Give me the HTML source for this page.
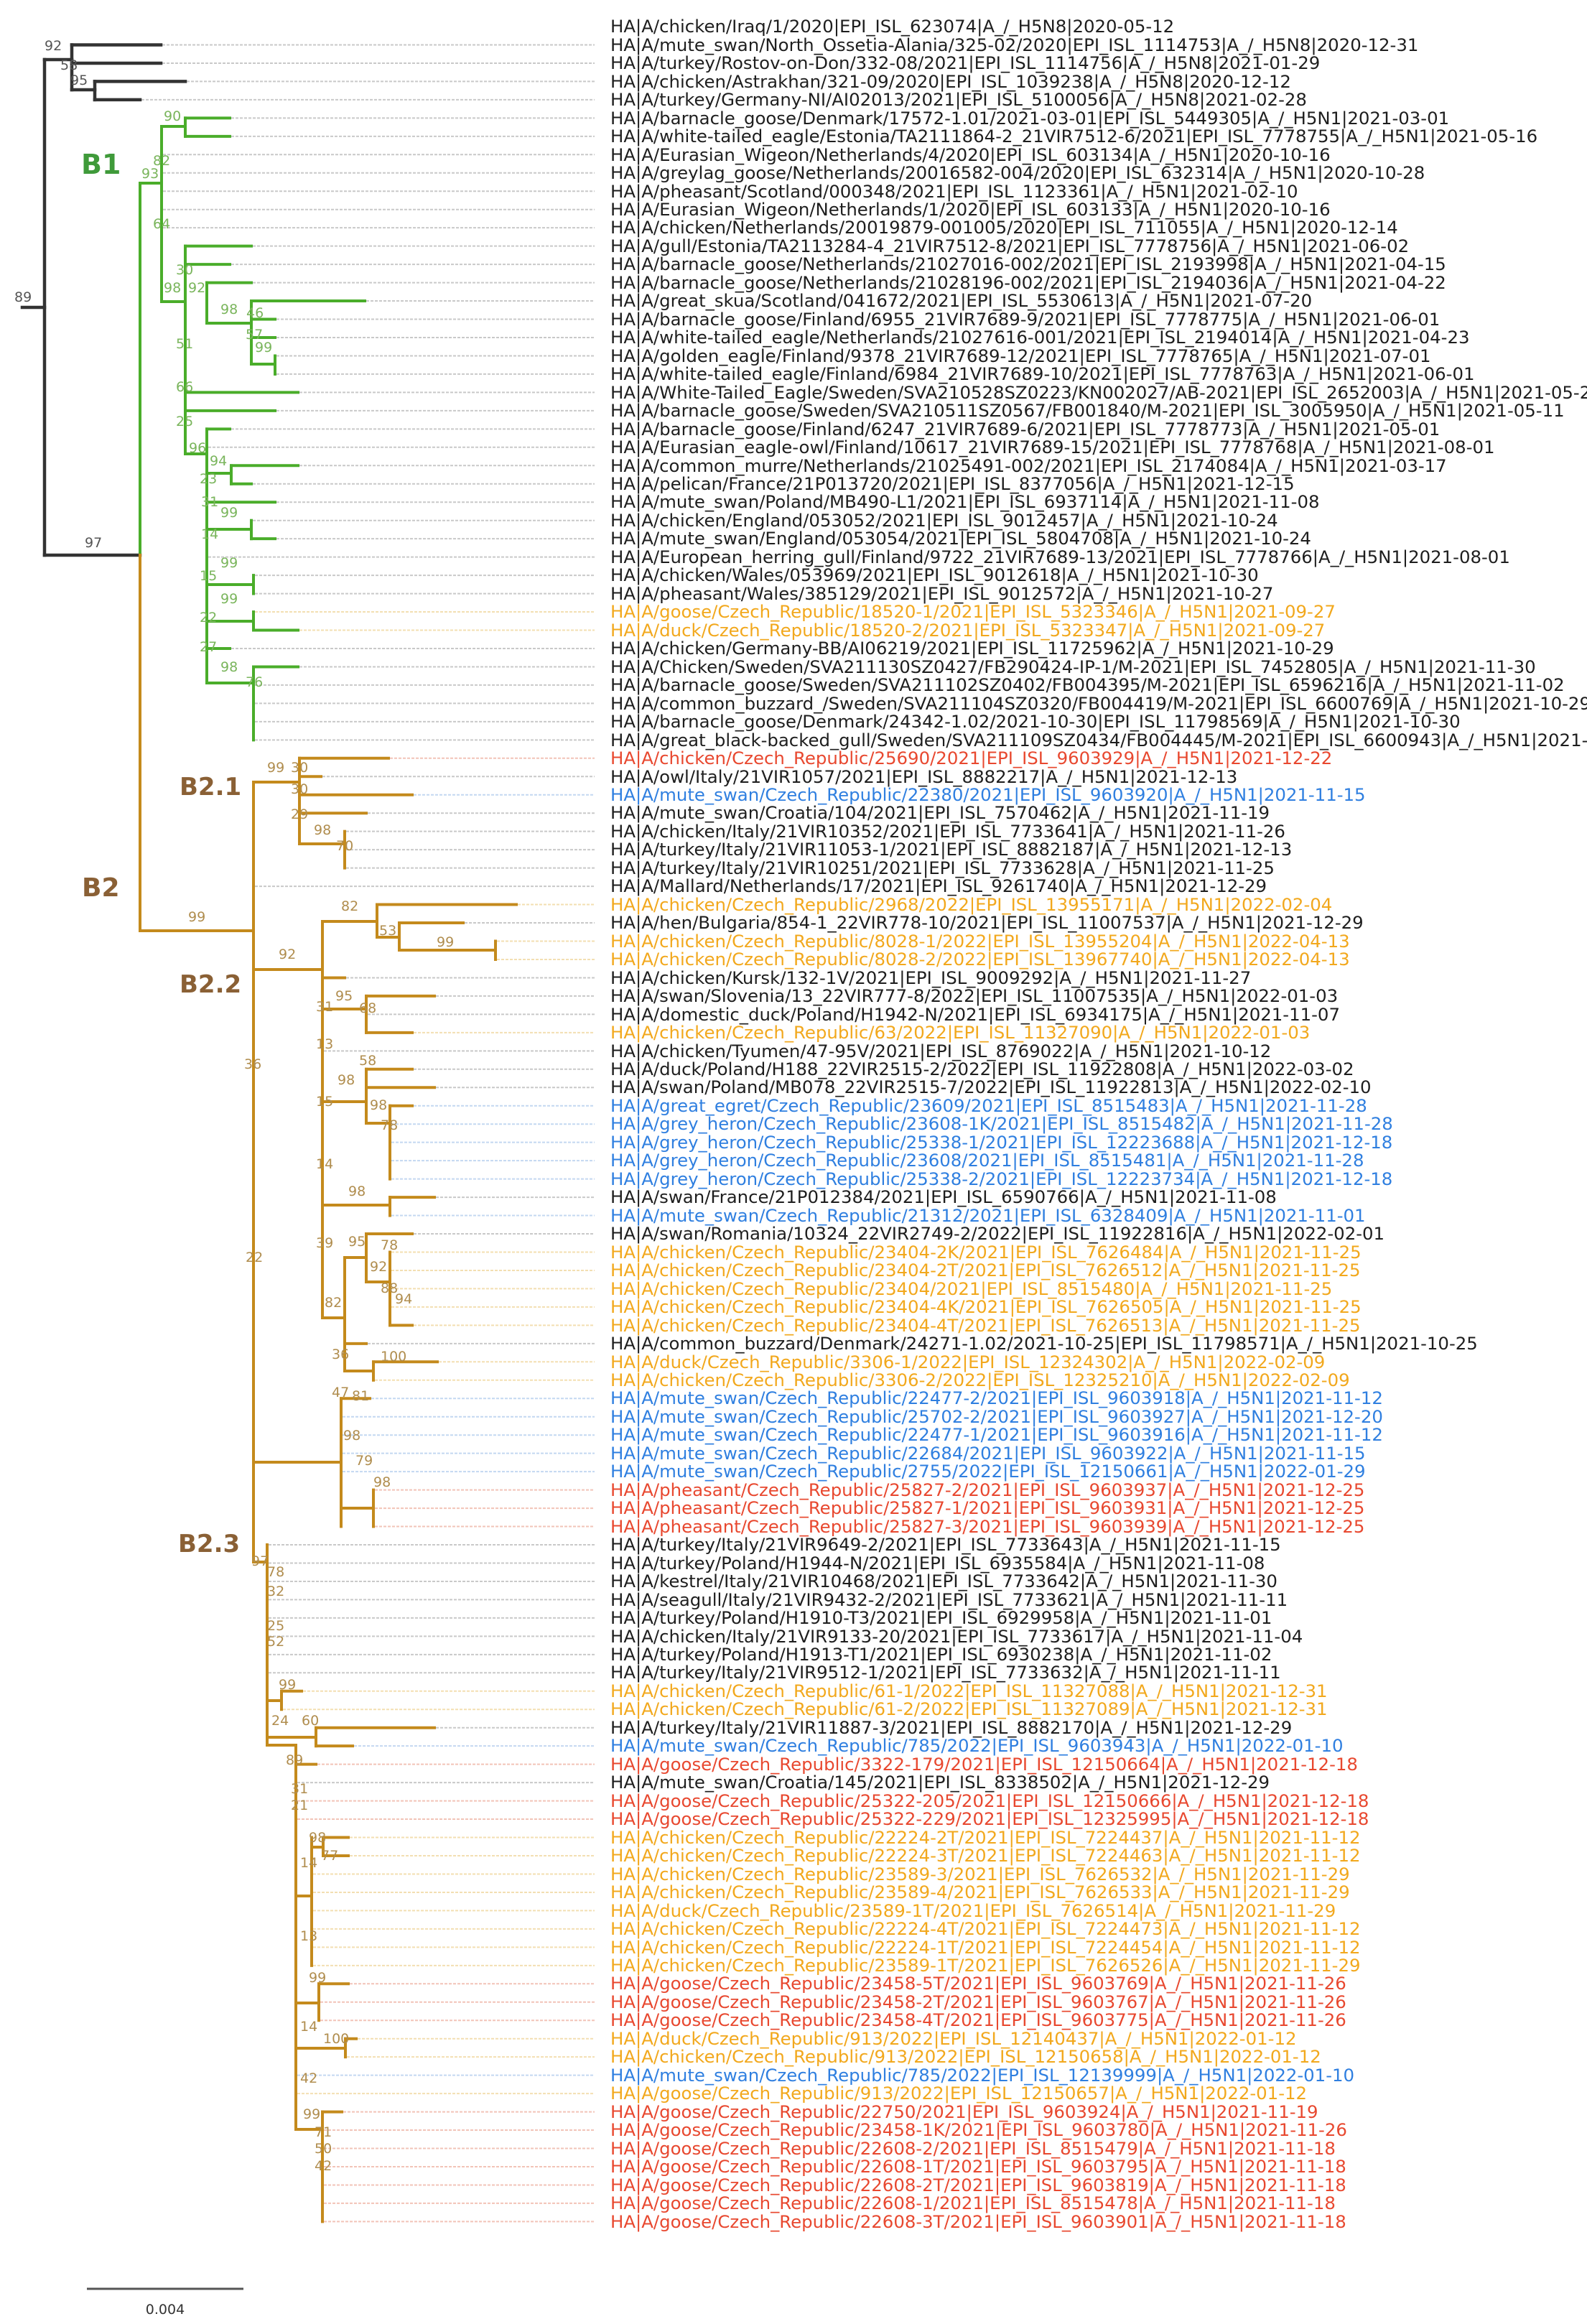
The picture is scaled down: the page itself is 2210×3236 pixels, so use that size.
<!DOCTYPE html>
<html><head><meta charset="utf-8">
<style>
html,body{margin:0;padding:0;background:#fff;}
body{width:2210px;height:3236px;position:relative;overflow:hidden;font-family:"DejaVu Sans","Liberation Sans",Arial,sans-serif;}
#labels{position:absolute;left:850px;top:24.3px;font-size:24.4px;line-height:25.47px;white-space:nowrap;font-family:"DejaVu Sans","Liberation Sans",sans-serif;}
#labels div{height:25.47px;}
.k{color:#1e1e1e}.y{color:#f2a81d}.b{color:#2f7fe0}.r{color:#e8482f}
svg{position:absolute;left:0;top:0;}
</style></head><body>
<svg id="tree" width="2210" height="3236" xmlns="http://www.w3.org/2000/svg">
<g id="dots"></g><g id="br"></g>
<g font-family="DejaVu Sans, Liberation Sans, sans-serif" font-size="19" fill="#555">
<text x="62" y="70">92</text><text x="84" y="97">58</text><text x="98" y="118">95</text>
<text x="20" y="420">89</text><text x="118" y="762">97</text>
</g>
<g font-family="DejaVu Sans, Liberation Sans, sans-serif" font-size="19" fill="#7ab55c">
<text x="228" y="168">90</text><text x="213" y="230">82</text><text x="197" y="248">93</text><text x="213" y="318">64</text>
<text x="245" y="382">30</text><text x="228" y="407">98</text><text x="262" y="407">92</text><text x="307" y="437">98</text>
<text x="343" y="442">46</text><text x="342" y="472">57</text><text x="355" y="490">99</text><text x="245" y="485">51</text>
<text x="245" y="545">66</text><text x="245" y="593">25</text><text x="263" y="630">96</text><text x="292" y="648">94</text>
<text x="278" y="673">23</text><text x="280" y="705">31</text><text x="307" y="720">99</text><text x="280" y="750">14</text>
<text x="307" y="790">99</text><text x="278" y="808">15</text><text x="307" y="840">99</text><text x="278" y="866">22</text>
<text x="278" y="907">27</text><text x="307" y="935">98</text><text x="342" y="956">76</text>
</g>
<g font-family="DejaVu Sans, Liberation Sans, sans-serif" font-size="19" fill="#b08d4e">
<text x="372" y="1075">99</text><text x="405" y="1075">30</text><text x="405" y="1105">30</text><text x="405" y="1140">29</text>
<text x="437" y="1162">98</text><text x="468" y="1184">70</text><text x="262" y="1283">99</text><text x="475" y="1268">82</text>
<text x="528" y="1302">53</text><text x="608" y="1318">99</text><text x="388" y="1335">92</text><text x="467" y="1393">95</text>
<text x="440" y="1408">31</text><text x="500" y="1410">68</text><text x="340" y="1488">36</text><text x="440" y="1460">13</text>
<text x="500" y="1483">58</text><text x="470" y="1510">98</text><text x="440" y="1540">15</text><text x="515" y="1545">98</text>
<text x="530" y="1573">78</text><text x="440" y="1627">14</text><text x="485" y="1665">98</text><text x="440" y="1737">39</text>
<text x="485" y="1735">95</text><text x="530" y="1740">78</text><text x="515" y="1770">92</text><text x="342" y="1757">22</text>
<text x="530" y="1800">88</text><text x="550" y="1815">94</text><text x="452" y="1820">82</text><text x="462" y="1892">36</text>
<text x="530" y="1895">100</text><text x="462" y="1945">47</text><text x="490" y="1950">81</text><text x="478" y="2005">98</text>
<text x="495" y="2040">79</text><text x="520" y="2070">98</text><text x="350" y="2180">97</text><text x="372" y="2195">78</text>
<text x="372" y="2222">32</text><text x="372" y="2270">25</text><text x="372" y="2292">52</text><text x="388" y="2352">99</text>
<text x="378" y="2402">24</text><text x="420" y="2402">60</text><text x="398" y="2457">89</text><text x="405" y="2497">31</text>
<text x="405" y="2520">21</text><text x="430" y="2565">98</text><text x="447" y="2590">77</text><text x="418" y="2600">14</text>
<text x="418" y="2702">13</text><text x="430" y="2760">99</text><text x="418" y="2828">14</text><text x="450" y="2845">100</text>
<text x="418" y="2900">42</text><text x="422" y="2950">99</text><text x="438" y="2975">71</text><text x="438" y="2998">50</text>
<text x="438" y="3022">42</text>
</g>
<g font-family="DejaVu Sans, Liberation Sans, sans-serif" font-weight="bold">
<text x="113" y="242" font-size="38" fill="#3f9a3a">B1</text>
<text x="250" y="1107" font-size="34" fill="#8a6035">B2.1</text>
<text x="114" y="1248" font-size="36" fill="#8a6035">B2</text>
<text x="250" y="1382" font-size="34" fill="#8a6035">B2.2</text>
<text x="248" y="2161" font-size="34" fill="#8a6035">B2.3</text>
</g>
<line x1="121" y1="3187" x2="339" y2="3187" stroke="#555" stroke-width="3"/>
<text x="230" y="3222" font-family="DejaVu Sans, Liberation Sans, sans-serif" font-size="19" fill="#333" text-anchor="middle">0.004</text>
</svg>
<div id="labels">
<div class="k">HA|A/chicken/Iraq/1/2020|EPI_ISL_623074|A_/_H5N8|2020-05-12</div>
<div class="k">HA|A/mute_swan/North_Ossetia-Alania/325-02/2020|EPI_ISL_1114753|A_/_H5N8|2020-12-31</div>
<div class="k">HA|A/turkey/Rostov-on-Don/332-08/2021|EPI_ISL_1114756|A_/_H5N8|2021-01-29</div>
<div class="k">HA|A/chicken/Astrakhan/321-09/2020|EPI_ISL_1039238|A_/_H5N8|2020-12-12</div>
<div class="k">HA|A/turkey/Germany-NI/AI02013/2021|EPI_ISL_5100056|A_/_H5N8|2021-02-28</div>
<div class="k">HA|A/barnacle_goose/Denmark/17572-1.01/2021-03-01|EPI_ISL_5449305|A_/_H5N1|2021-03-01</div>
<div class="k">HA|A/white-tailed_eagle/Estonia/TA2111864-2_21VIR7512-6/2021|EPI_ISL_7778755|A_/_H5N1|2021-05-16</div>
<div class="k">HA|A/Eurasian_Wigeon/Netherlands/4/2020|EPI_ISL_603134|A_/_H5N1|2020-10-16</div>
<div class="k">HA|A/greylag_goose/Netherlands/20016582-004/2020|EPI_ISL_632314|A_/_H5N1|2020-10-28</div>
<div class="k">HA|A/pheasant/Scotland/000348/2021|EPI_ISL_1123361|A_/_H5N1|2021-02-10</div>
<div class="k">HA|A/Eurasian_Wigeon/Netherlands/1/2020|EPI_ISL_603133|A_/_H5N1|2020-10-16</div>
<div class="k">HA|A/chicken/Netherlands/20019879-001005/2020|EPI_ISL_711055|A_/_H5N1|2020-12-14</div>
<div class="k">HA|A/gull/Estonia/TA2113284-4_21VIR7512-8/2021|EPI_ISL_7778756|A_/_H5N1|2021-06-02</div>
<div class="k">HA|A/barnacle_goose/Netherlands/21027016-002/2021|EPI_ISL_2193998|A_/_H5N1|2021-04-15</div>
<div class="k">HA|A/barnacle_goose/Netherlands/21028196-002/2021|EPI_ISL_2194036|A_/_H5N1|2021-04-22</div>
<div class="k">HA|A/great_skua/Scotland/041672/2021|EPI_ISL_5530613|A_/_H5N1|2021-07-20</div>
<div class="k">HA|A/barnacle_goose/Finland/6955_21VIR7689-9/2021|EPI_ISL_7778775|A_/_H5N1|2021-06-01</div>
<div class="k">HA|A/white-tailed_eagle/Netherlands/21027616-001/2021|EPI_ISL_2194014|A_/_H5N1|2021-04-23</div>
<div class="k">HA|A/golden_eagle/Finland/9378_21VIR7689-12/2021|EPI_ISL_7778765|A_/_H5N1|2021-07-01</div>
<div class="k">HA|A/white-tailed_eagle/Finland/6984_21VIR7689-10/2021|EPI_ISL_7778763|A_/_H5N1|2021-06-01</div>
<div class="k">HA|A/White-Tailed_Eagle/Sweden/SVA210528SZ0223/KN002027/AB-2021|EPI_ISL_2652003|A_/_H5N1|2021-05-28</div>
<div class="k">HA|A/barnacle_goose/Sweden/SVA210511SZ0567/FB001840/M-2021|EPI_ISL_3005950|A_/_H5N1|2021-05-11</div>
<div class="k">HA|A/barnacle_goose/Finland/6247_21VIR7689-6/2021|EPI_ISL_7778773|A_/_H5N1|2021-05-01</div>
<div class="k">HA|A/Eurasian_eagle-owl/Finland/10617_21VIR7689-15/2021|EPI_ISL_7778768|A_/_H5N1|2021-08-01</div>
<div class="k">HA|A/common_murre/Netherlands/21025491-002/2021|EPI_ISL_2174084|A_/_H5N1|2021-03-17</div>
<div class="k">HA|A/pelican/France/21P013720/2021|EPI_ISL_8377056|A_/_H5N1|2021-12-15</div>
<div class="k">HA|A/mute_swan/Poland/MB490-L1/2021|EPI_ISL_6937114|A_/_H5N1|2021-11-08</div>
<div class="k">HA|A/chicken/England/053052/2021|EPI_ISL_9012457|A_/_H5N1|2021-10-24</div>
<div class="k">HA|A/mute_swan/England/053054/2021|EPI_ISL_5804708|A_/_H5N1|2021-10-24</div>
<div class="k">HA|A/European_herring_gull/Finland/9722_21VIR7689-13/2021|EPI_ISL_7778766|A_/_H5N1|2021-08-01</div>
<div class="k">HA|A/chicken/Wales/053969/2021|EPI_ISL_9012618|A_/_H5N1|2021-10-30</div>
<div class="k">HA|A/pheasant/Wales/385129/2021|EPI_ISL_9012572|A_/_H5N1|2021-10-27</div>
<div class="y">HA|A/goose/Czech_Republic/18520-1/2021|EPI_ISL_5323346|A_/_H5N1|2021-09-27</div>
<div class="y">HA|A/duck/Czech_Republic/18520-2/2021|EPI_ISL_5323347|A_/_H5N1|2021-09-27</div>
<div class="k">HA|A/chicken/Germany-BB/AI06219/2021|EPI_ISL_11725962|A_/_H5N1|2021-10-29</div>
<div class="k">HA|A/Chicken/Sweden/SVA211130SZ0427/FB290424-IP-1/M-2021|EPI_ISL_7452805|A_/_H5N1|2021-11-30</div>
<div class="k">HA|A/barnacle_goose/Sweden/SVA211102SZ0402/FB004395/M-2021|EPI_ISL_6596216|A_/_H5N1|2021-11-02</div>
<div class="k">HA|A/common_buzzard_/Sweden/SVA211104SZ0320/FB004419/M-2021|EPI_ISL_6600769|A_/_H5N1|2021-10-29</div>
<div class="k">HA|A/barnacle_goose/Denmark/24342-1.02/2021-10-30|EPI_ISL_11798569|A_/_H5N1|2021-10-30</div>
<div class="k">HA|A/great_black-backed_gull/Sweden/SVA211109SZ0434/FB004445/M-2021|EPI_ISL_6600943|A_/_H5N1|2021-11-09</div>
<div class="r">HA|A/chicken/Czech_Republic/25690/2021|EPI_ISL_9603929|A_/_H5N1|2021-12-22</div>
<div class="k">HA|A/owl/Italy/21VIR1057/2021|EPI_ISL_8882217|A_/_H5N1|2021-12-13</div>
<div class="b">HA|A/mute_swan/Czech_Republic/22380/2021|EPI_ISL_9603920|A_/_H5N1|2021-11-15</div>
<div class="k">HA|A/mute_swan/Croatia/104/2021|EPI_ISL_7570462|A_/_H5N1|2021-11-19</div>
<div class="k">HA|A/chicken/Italy/21VIR10352/2021|EPI_ISL_7733641|A_/_H5N1|2021-11-26</div>
<div class="k">HA|A/turkey/Italy/21VIR11053-1/2021|EPI_ISL_8882187|A_/_H5N1|2021-12-13</div>
<div class="k">HA|A/turkey/Italy/21VIR10251/2021|EPI_ISL_7733628|A_/_H5N1|2021-11-25</div>
<div class="k">HA|A/Mallard/Netherlands/17/2021|EPI_ISL_9261740|A_/_H5N1|2021-12-29</div>
<div class="y">HA|A/chicken/Czech_Republic/2968/2022|EPI_ISL_13955171|A_/_H5N1|2022-02-04</div>
<div class="k">HA|A/hen/Bulgaria/854-1_22VIR778-10/2021|EPI_ISL_11007537|A_/_H5N1|2021-12-29</div>
<div class="y">HA|A/chicken/Czech_Republic/8028-1/2022|EPI_ISL_13955204|A_/_H5N1|2022-04-13</div>
<div class="y">HA|A/chicken/Czech_Republic/8028-2/2022|EPI_ISL_13967740|A_/_H5N1|2022-04-13</div>
<div class="k">HA|A/chicken/Kursk/132-1V/2021|EPI_ISL_9009292|A_/_H5N1|2021-11-27</div>
<div class="k">HA|A/swan/Slovenia/13_22VIR777-8/2022|EPI_ISL_11007535|A_/_H5N1|2022-01-03</div>
<div class="k">HA|A/domestic_duck/Poland/H1942-N/2021|EPI_ISL_6934175|A_/_H5N1|2021-11-07</div>
<div class="y">HA|A/chicken/Czech_Republic/63/2022|EPI_ISL_11327090|A_/_H5N1|2022-01-03</div>
<div class="k">HA|A/chicken/Tyumen/47-95V/2021|EPI_ISL_8769022|A_/_H5N1|2021-10-12</div>
<div class="k">HA|A/duck/Poland/H188_22VIR2515-2/2022|EPI_ISL_11922808|A_/_H5N1|2022-03-02</div>
<div class="k">HA|A/swan/Poland/MB078_22VIR2515-7/2022|EPI_ISL_11922813|A_/_H5N1|2022-02-10</div>
<div class="b">HA|A/great_egret/Czech_Republic/23609/2021|EPI_ISL_8515483|A_/_H5N1|2021-11-28</div>
<div class="b">HA|A/grey_heron/Czech_Republic/23608-1K/2021|EPI_ISL_8515482|A_/_H5N1|2021-11-28</div>
<div class="b">HA|A/grey_heron/Czech_Republic/25338-1/2021|EPI_ISL_12223688|A_/_H5N1|2021-12-18</div>
<div class="b">HA|A/grey_heron/Czech_Republic/23608/2021|EPI_ISL_8515481|A_/_H5N1|2021-11-28</div>
<div class="b">HA|A/grey_heron/Czech_Republic/25338-2/2021|EPI_ISL_12223734|A_/_H5N1|2021-12-18</div>
<div class="k">HA|A/swan/France/21P012384/2021|EPI_ISL_6590766|A_/_H5N1|2021-11-08</div>
<div class="b">HA|A/mute_swan/Czech_Republic/21312/2021|EPI_ISL_6328409|A_/_H5N1|2021-11-01</div>
<div class="k">HA|A/swan/Romania/10324_22VIR2749-2/2022|EPI_ISL_11922816|A_/_H5N1|2022-02-01</div>
<div class="y">HA|A/chicken/Czech_Republic/23404-2K/2021|EPI_ISL_7626484|A_/_H5N1|2021-11-25</div>
<div class="y">HA|A/chicken/Czech_Republic/23404-2T/2021|EPI_ISL_7626512|A_/_H5N1|2021-11-25</div>
<div class="y">HA|A/chicken/Czech_Republic/23404/2021|EPI_ISL_8515480|A_/_H5N1|2021-11-25</div>
<div class="y">HA|A/chicken/Czech_Republic/23404-4K/2021|EPI_ISL_7626505|A_/_H5N1|2021-11-25</div>
<div class="y">HA|A/chicken/Czech_Republic/23404-4T/2021|EPI_ISL_7626513|A_/_H5N1|2021-11-25</div>
<div class="k">HA|A/common_buzzard/Denmark/24271-1.02/2021-10-25|EPI_ISL_11798571|A_/_H5N1|2021-10-25</div>
<div class="y">HA|A/duck/Czech_Republic/3306-1/2022|EPI_ISL_12324302|A_/_H5N1|2022-02-09</div>
<div class="y">HA|A/chicken/Czech_Republic/3306-2/2022|EPI_ISL_12325210|A_/_H5N1|2022-02-09</div>
<div class="b">HA|A/mute_swan/Czech_Republic/22477-2/2021|EPI_ISL_9603918|A_/_H5N1|2021-11-12</div>
<div class="b">HA|A/mute_swan/Czech_Republic/25702-2/2021|EPI_ISL_9603927|A_/_H5N1|2021-12-20</div>
<div class="b">HA|A/mute_swan/Czech_Republic/22477-1/2021|EPI_ISL_9603916|A_/_H5N1|2021-11-12</div>
<div class="b">HA|A/mute_swan/Czech_Republic/22684/2021|EPI_ISL_9603922|A_/_H5N1|2021-11-15</div>
<div class="b">HA|A/mute_swan/Czech_Republic/2755/2022|EPI_ISL_12150661|A_/_H5N1|2022-01-29</div>
<div class="r">HA|A/pheasant/Czech_Republic/25827-2/2021|EPI_ISL_9603937|A_/_H5N1|2021-12-25</div>
<div class="r">HA|A/pheasant/Czech_Republic/25827-1/2021|EPI_ISL_9603931|A_/_H5N1|2021-12-25</div>
<div class="r">HA|A/pheasant/Czech_Republic/25827-3/2021|EPI_ISL_9603939|A_/_H5N1|2021-12-25</div>
<div class="k">HA|A/turkey/Italy/21VIR9649-2/2021|EPI_ISL_7733643|A_/_H5N1|2021-11-15</div>
<div class="k">HA|A/turkey/Poland/H1944-N/2021|EPI_ISL_6935584|A_/_H5N1|2021-11-08</div>
<div class="k">HA|A/kestrel/Italy/21VIR10468/2021|EPI_ISL_7733642|A_/_H5N1|2021-11-30</div>
<div class="k">HA|A/seagull/Italy/21VIR9432-2/2021|EPI_ISL_7733621|A_/_H5N1|2021-11-11</div>
<div class="k">HA|A/turkey/Poland/H1910-T3/2021|EPI_ISL_6929958|A_/_H5N1|2021-11-01</div>
<div class="k">HA|A/chicken/Italy/21VIR9133-20/2021|EPI_ISL_7733617|A_/_H5N1|2021-11-04</div>
<div class="k">HA|A/turkey/Poland/H1913-T1/2021|EPI_ISL_6930238|A_/_H5N1|2021-11-02</div>
<div class="k">HA|A/turkey/Italy/21VIR9512-1/2021|EPI_ISL_7733632|A_/_H5N1|2021-11-11</div>
<div class="y">HA|A/chicken/Czech_Republic/61-1/2022|EPI_ISL_11327088|A_/_H5N1|2021-12-31</div>
<div class="y">HA|A/chicken/Czech_Republic/61-2/2022|EPI_ISL_11327089|A_/_H5N1|2021-12-31</div>
<div class="k">HA|A/turkey/Italy/21VIR11887-3/2021|EPI_ISL_8882170|A_/_H5N1|2021-12-29</div>
<div class="b">HA|A/mute_swan/Czech_Republic/785/2022|EPI_ISL_9603943|A_/_H5N1|2022-01-10</div>
<div class="r">HA|A/goose/Czech_Republic/3322-179/2021|EPI_ISL_12150664|A_/_H5N1|2021-12-18</div>
<div class="k">HA|A/mute_swan/Croatia/145/2021|EPI_ISL_8338502|A_/_H5N1|2021-12-29</div>
<div class="r">HA|A/goose/Czech_Republic/25322-205/2021|EPI_ISL_12150666|A_/_H5N1|2021-12-18</div>
<div class="r">HA|A/goose/Czech_Republic/25322-229/2021|EPI_ISL_12325995|A_/_H5N1|2021-12-18</div>
<div class="y">HA|A/chicken/Czech_Republic/22224-2T/2021|EPI_ISL_7224437|A_/_H5N1|2021-11-12</div>
<div class="y">HA|A/chicken/Czech_Republic/22224-3T/2021|EPI_ISL_7224463|A_/_H5N1|2021-11-12</div>
<div class="y">HA|A/chicken/Czech_Republic/23589-3/2021|EPI_ISL_7626532|A_/_H5N1|2021-11-29</div>
<div class="y">HA|A/chicken/Czech_Republic/23589-4/2021|EPI_ISL_7626533|A_/_H5N1|2021-11-29</div>
<div class="y">HA|A/duck/Czech_Republic/23589-1T/2021|EPI_ISL_7626514|A_/_H5N1|2021-11-29</div>
<div class="y">HA|A/chicken/Czech_Republic/22224-4T/2021|EPI_ISL_7224473|A_/_H5N1|2021-11-12</div>
<div class="y">HA|A/chicken/Czech_Republic/22224-1T/2021|EPI_ISL_7224454|A_/_H5N1|2021-11-12</div>
<div class="y">HA|A/chicken/Czech_Republic/23589-1T/2021|EPI_ISL_7626526|A_/_H5N1|2021-11-29</div>
<div class="r">HA|A/goose/Czech_Republic/23458-5T/2021|EPI_ISL_9603769|A_/_H5N1|2021-11-26</div>
<div class="r">HA|A/goose/Czech_Republic/23458-2T/2021|EPI_ISL_9603767|A_/_H5N1|2021-11-26</div>
<div class="r">HA|A/goose/Czech_Republic/23458-4T/2021|EPI_ISL_9603775|A_/_H5N1|2021-11-26</div>
<div class="y">HA|A/duck/Czech_Republic/913/2022|EPI_ISL_12140437|A_/_H5N1|2022-01-12</div>
<div class="y">HA|A/chicken/Czech_Republic/913/2022|EPI_ISL_12150658|A_/_H5N1|2022-01-12</div>
<div class="b">HA|A/mute_swan/Czech_Republic/785/2022|EPI_ISL_12139999|A_/_H5N1|2022-01-10</div>
<div class="y">HA|A/goose/Czech_Republic/913/2022|EPI_ISL_12150657|A_/_H5N1|2022-01-12</div>
<div class="r">HA|A/goose/Czech_Republic/22750/2021|EPI_ISL_9603924|A_/_H5N1|2021-11-19</div>
<div class="r">HA|A/goose/Czech_Republic/23458-1K/2021|EPI_ISL_9603780|A_/_H5N1|2021-11-26</div>
<div class="r">HA|A/goose/Czech_Republic/22608-2/2021|EPI_ISL_8515479|A_/_H5N1|2021-11-18</div>
<div class="r">HA|A/goose/Czech_Republic/22608-1T/2021|EPI_ISL_9603795|A_/_H5N1|2021-11-18</div>
<div class="r">HA|A/goose/Czech_Republic/22608-2T/2021|EPI_ISL_9603819|A_/_H5N1|2021-11-18</div>
<div class="r">HA|A/goose/Czech_Republic/22608-1/2021|EPI_ISL_8515478|A_/_H5N1|2021-11-18</div>
<div class="r">HA|A/goose/Czech_Republic/22608-3T/2021|EPI_ISL_9603901|A_/_H5N1|2021-11-18</div>
</div>
<script>
(function(){
var NS="http://www.w3.org/2000/svg",br=document.getElementById("br"),dots=document.getElementById("dots");
var R=function(i){return 37+(i-1)*25.47;};
var tip={};
function L(x1,y1,x2,y2,c){var l=document.createElementNS(NS,"line");l.setAttribute("x1",x1);l.setAttribute("y1",y1);l.setAttribute("x2",x2);l.setAttribute("y2",y2);l.setAttribute("stroke",c);l.setAttribute("stroke-width",c=="#333"?4.5:4);l.setAttribute("stroke-linecap","square");br.appendChild(l);}
function H(a,b,y,c){L(a,y,b,y,c);} function V(x,a,b,c){L(x,a,x,b,c);}
function lf(i,a,b,c){H(a,b,R(i),c);tip[i]=b;}
function z(a,b,x){for(var i=a;i<=b;i++)if(tip[i]===undefined)tip[i]=x;}
var K="#333",G="#4aad2a",O="#c48a1c";
H(31,62,428,K);V(62,83,773,K);H(62,100,83,K);V(100,R(2),125,K);lf(2,100,224,K);lf(3,100,224,K);
H(100,132,125,K);V(132,R(4),R(5),K);lf(4,132,258,K);lf(5,132,195,K);H(62,195,773,K);
V(195,255,773,G);H(195,225,255,G);V(225,176,420,G);H(225,258,176,G);V(258,R(6),R(7),G);lf(6,258,320,G);lf(7,258,320,G);
z(8,12,225);
H(225,258,420,G);V(258,R(13),632,G);lf(13,258,350,G);lf(14,258,320,G);
V(288,R(15),450,G);lf(15,288,350,G);H(288,350,450,G);V(350,R(16),507,G);lf(16,350,508,G);lf(17,350,383,G);lf(18,350,383,G);
H(350,383,507,G);V(383,R(19),R(20),G);z(19,20,383);
lf(21,258,415,G);lf(22,258,383,G);H(258,288,632,G);V(288,R(23),951,G);lf(23,288,320,G);z(24,24,288);
V(322,R(25),R(26),G);H(288,322,659,G);lf(25,322,415,G);lf(26,322,350,G);lf(27,288,383,G);
V(350,R(28),R(29),G);H(288,350,737,G);z(28,28,350);lf(29,350,383,G);z(30,30,288);
V(353,R(31),R(32),G);H(288,353,814,G);z(31,32,353);
V(353,R(33),R(34),G);H(288,353,865,G);lf(34,353,415,G);z(33,33,353);lf(35,288,320,G);
H(288,353,951,G);V(353,R(36),R(40),G);lf(36,353,415,G);z(37,40,353);
V(195,773,1296,O);H(195,353,1296,O);V(353,1089,2175,O);H(353,417,1089,O);V(417,R(41),1175,O);
lf(41,417,541,O);lf(42,417,447,O);lf(43,417,574,O);lf(44,417,510,O);H(417,480,1175,O);V(480,R(45),R(47),O);z(45,47,480);z(48,48,353);
H(353,449,1350,O);V(449,1283,1835,O);H(449,525,1283,O);V(525,R(49),1305,O);lf(49,525,719,O);H(525,556,1305,O);V(556,R(50),1323,O);
lf(50,556,645,O);H(556,690,1323,O);V(690,R(51),R(52),O);z(51,52,690);
lf(53,449,480,O);H(449,510,1405,O);V(510,R(54),R(56),O);lf(54,510,605,O);lf(56,510,574,O);z(55,55,510);z(57,57,449);
H(449,510,1534,O);V(510,R(58),1564,O);lf(58,510,574,O);lf(59,510,605,O);H(510,543,1564,O);V(543,R(60),R(64),O);lf(60,543,574,O);z(61,64,543);
H(449,543,1678,O);V(543,R(65),R(66),O);lf(65,543,605,O);z(66,66,543);
H(449,480,1835,O);V(480,1751,1909,O);H(480,510,1751,O);V(510,R(67),1785,O);lf(67,510,574,O);H(510,543,1785,O);V(543,R(68),R(72),O);
lf(72,543,574,O);z(68,71,543);lf(73,480,510,O);H(480,520,1909,O);V(520,R(74),R(75),O);lf(74,520,609,O);z(75,75,520);
H(353,475,2036,O);V(475,R(76),R(83),O);lf(76,475,515,O);H(475,520,2100,O);V(520,R(81),R(83),O);z(81,83,520);z(77,80,475);
H(353,372,2175,O);V(372,R(84),2430,O);z(84,91,372);
H(372,392,2368,O);V(392,R(92),R(93),O);lf(92,392,420,O);z(93,93,392);
H(372,440,2419,O);V(440,R(94),R(95),O);lf(94,440,605,O);lf(95,440,491,O);
H(372,412,2430,O);V(412,2430,2965,O);lf(96,412,440,O);z(97,99,412);
H(412,434,2640,O);V(434,R(100),R(107),O);H(434,450,2572,O);V(450,R(100),R(101),O);lf(100,450,485,O);lf(101,450,485,O);z(102,107,434);
H(412,444,2789,O);V(444,R(108),R(110),O);lf(108,444,485,O);z(109,110,444);
H(412,481,2852,O);V(481,R(111),R(112),O);lf(111,481,496,O);z(112,112,481);z(113,114,412);
H(412,449,2965,O);V(449,R(115),R(121),O);lf(115,449,476,O);z(116,121,449);
var rows=document.querySelectorAll("#labels div");
var tint={k:"#c9c9c9",y:"#f3dfb2",b:"#c4d8f1",r:"#f2c4b8"};
for(var i=2;i<=121;i++){var x=tip[i]===undefined?353:tip[i];var c=tint[rows[i-1].className]||"#ccc";
var l=document.createElementNS(NS,"line");l.setAttribute("x1",x+2);l.setAttribute("x2",828);l.setAttribute("y1",R(i));l.setAttribute("y2",R(i));
l.setAttribute("stroke",c);l.setAttribute("stroke-width",2);l.setAttribute("stroke-dasharray","4,2");dots.appendChild(l);}
})();
</script>
</body></html>
